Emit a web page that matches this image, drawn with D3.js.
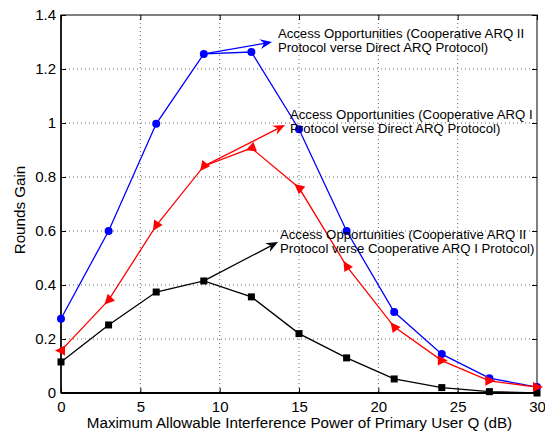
<!DOCTYPE html>
<html><head><meta charset="utf-8">
<script src="https://cdn.jsdelivr.net/npm/d3@7"></script>
<style>body{margin:0;background:#fff}svg{display:block}text{font-family:"Liberation Sans",Arial,sans-serif}</style>
</head><body><svg id="c" width="545" height="432"></svg>
<script>
const xValues = [0,3,6,9,12,15,18,21,24,27,30];
const blueII_vs_Direct = [0.275,0.60,0.997,1.256,1.263,0.977,0.600,0.300,0.144,0.055,0.022];
const redI_vs_Direct   = [0.157,0.344,0.620,0.840,0.907,0.760,0.470,0.245,0.120,0.045,0.022];
const blackII_vs_I     = [0.115,0.252,0.374,0.415,0.356,0.220,0.130,0.052,0.020,0.005,0.000];
const xTicks = [0,5,10,15,20,25,30];
const yTicks = [0,0.2,0.4,0.6,0.8,1,1.2,1.4];
const annotations = [
  {lines:["Access Opportunities (Cooperative ARQ II","Protocol verse Direct ARQ Protocol)"], from:[9,1.256], to:[13.3,1.30], text:[13.67,1.313], color:"blue"},
  {lines:["Access Opportunities (Cooperative ARQ I","Protocol verse Direct ARQ Protocol)"], from:[9,0.840], to:[14.12,0.993], text:[14.43,1.013], color:"red"},
  {lines:["Access Opportunities (Cooperative ARQ II","Protocol verse Cooperative ARQ I Protocol)"], from:[9,0.415], to:[13.68,0.559], text:[13.8,0.572], color:"black"}
];

const svg = d3.select("#c");
const L=61,R=537,T=15,B=393;
const x = d3.scaleLinear().domain([0,30]).range([L,R]);
const y = d3.scaleLinear().domain([0,1.4]).range([B,T]);

svg.append("rect").attr("width",545).attr("height",432).attr("fill","#fff");

// grid
const g = svg.append("g");
g.selectAll(".gx").data(xTicks.slice(1,-1)).join("line")
  .attr("x1",d=>x(d)).attr("x2",d=>x(d)).attr("y1",T).attr("y2",B)
  .attr("stroke","#000").attr("stroke-width",0.6).attr("stroke-dasharray","1,3");
g.selectAll(".gy").data(yTicks.slice(1,-1)).join("line")
  .attr("y1",d=>y(d)).attr("y2",d=>y(d)).attr("x1",L).attr("x2",R)
  .attr("stroke","#000").attr("stroke-width",0.6).attr("stroke-dasharray","1,3");

// axes
const fs = 15;
const xAxis = svg.append("g").attr("transform",`translate(0,${B})`)
  .call(d3.axisBottom(x).tickValues(xTicks).tickFormat(d3.format("d")).tickSizeInner(-5).tickSizeOuter(0).tickPadding(8));
const yAxis = svg.append("g").attr("transform",`translate(${L},0)`)
  .call(d3.axisLeft(y).tickValues(yTicks).tickFormat(d=>d3.format("")(+d.toFixed(1))).tickSizeInner(-5).tickSizeOuter(0).tickPadding(5));
const xTop = svg.append("g").attr("transform",`translate(0,${T})`)
  .call(d3.axisTop(x).tickValues(xTicks).tickFormat("").tickSizeInner(-5).tickSizeOuter(0));
const yRight = svg.append("g").attr("transform",`translate(${R},0)`)
  .call(d3.axisRight(y).tickValues(yTicks).tickFormat("").tickSizeInner(-5).tickSizeOuter(0));
[xAxis,yAxis,xTop,yRight].forEach(a=>{
  a.select(".domain").remove();
  a.selectAll("line").attr("stroke","#000");
  a.selectAll("text").attr("font-size",fs).attr("fill","#000").attr("font-family","Liberation Sans, Arial, sans-serif");
});
svg.append("rect").attr("x",L).attr("y",T).attr("width",R-L).attr("height",B-T)
  .attr("fill","none").attr("stroke","#000").attr("stroke-width",1);
svg.append("line").attr("x1",L).attr("x2",R).attr("y1",B).attr("y2",B).attr("stroke","#000").attr("stroke-width",2);
svg.append("line").attr("x1",L).attr("x2",L).attr("y1",T).attr("y2",B).attr("stroke","#000").attr("stroke-width",1.5);

// labels
svg.append("text").attr("x",(L+R)/2+0.5).attr("y",428).attr("text-anchor","middle").attr("font-size",15.2)
  .text("Maximum Allowable Interference Power of Primary User Q (dB)");
svg.append("text").attr("transform",`translate(25,${(T+B)/2+6}) rotate(-90)`).attr("text-anchor","middle").attr("font-size",15.2)
  .text("Rounds Gain");

const line = d3.line().x(d=>x(d[0])).y(d=>y(d[1]));
function series(vals,color){
  const pts = xValues.map((v,i)=>[v,vals[i]]);
  svg.append("path").attr("d",line(pts)).attr("fill","none").attr("stroke",color).attr("stroke-width",1.3);
  return pts;
}
const bp = series(blueII_vs_Direct,"blue");
const rp = series(redI_vs_Direct,"red");
const kp = series(blackII_vs_I,"black");

svg.selectAll(".bm").data(bp).join("circle").attr("cx",d=>x(d[0])).attr("cy",d=>y(d[1])).attr("r",4).attr("fill","blue");
svg.selectAll(".km").data(kp).join("rect").attr("x",d=>x(d[0])-3.5).attr("y",d=>y(d[1])-3.5).attr("width",7).attr("height",7).attr("fill","black");
// red triangle markers: oriented along the line
rp.forEach((d,i)=>{
  const px=x(d[0]),py=y(d[1]);
  let ang;
  if(i===0) ang=Math.PI; 
  else if(i>=8) ang=0;
  else { const q=rp[i-1]; ang=Math.atan2(y(q[1])-py, x(q[0])-px); }
  const deg=ang*180/Math.PI;
  svg.append("path").attr("d","M6,0 L-4,-5 L-4,5 Z").attr("fill","red")
    .attr("transform",`translate(${px},${py}) rotate(${deg})`);
});

// annotations
annotations.forEach(a=>{
  const x1=x(a.from[0]),y1=y(a.from[1]),x2=x(a.to[0]),y2=y(a.to[1]);
  const ang=Math.atan2(y2-y1,x2-x1)*180/Math.PI;
  svg.append("line").attr("x1",x1).attr("y1",y1).attr("x2",x2-Math.cos(ang*Math.PI/180)*6).attr("y2",y2-Math.sin(ang*Math.PI/180)*6)
    .attr("stroke",a.color).attr("stroke-width",1.3);
  svg.append("path").attr("d","M0,0 L-12,-5 L-8,0 L-12,5 Z").attr("fill",a.color)
    .attr("transform",`translate(${x2},${y2}) rotate(${ang})`);
  const t=svg.append("text").attr("x",x(a.text[0])).attr("y",y(a.text[1])).attr("font-size",13.2).attr("fill","#000");
  a.lines.forEach((s,i)=>t.append("tspan").attr("x",x(a.text[0])).attr("dy",i?14:0).text(s));
});
</script></body></html>
